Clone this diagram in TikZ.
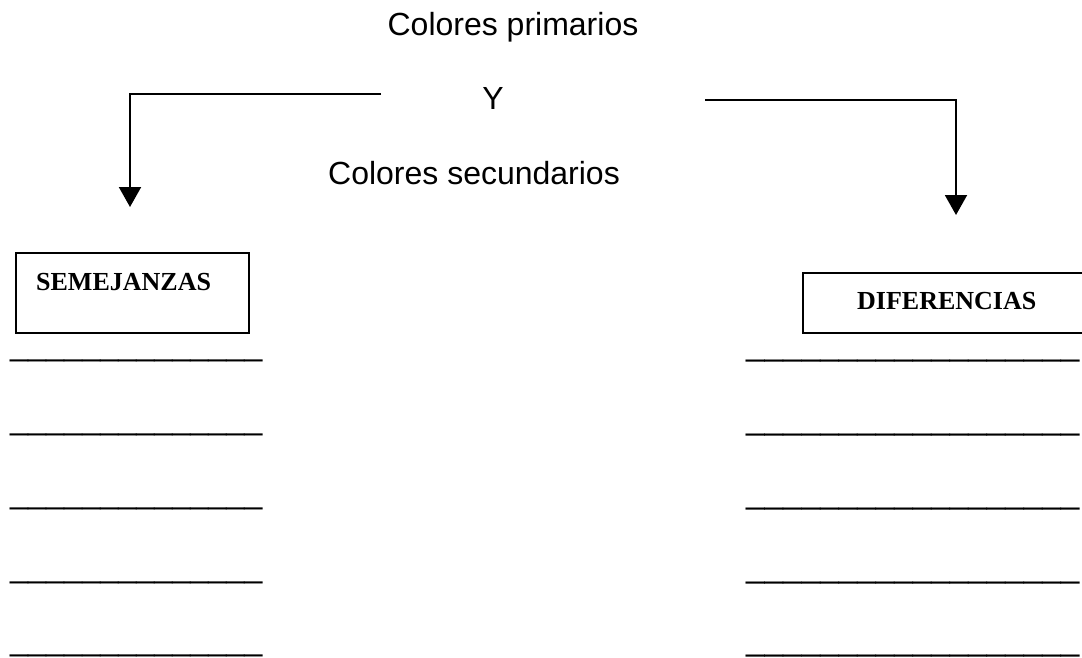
\documentclass[tikz,border=0pt]{standalone}
\usepackage{fontspec}
\setmainfont{Liberation Sans}
\newfontfamily\serifbf{Liberation Serif}
\usetikzlibrary{arrows.meta}
\tikzset{
  title/.style={anchor=base, inner sep=0pt, font=\fontsize{32}{38}\selectfont},
  boxlabel/.style={anchor=base west, inner sep=0pt, font=\serifbf\bfseries\fontsize{26}{30}\selectfont},
  framebox/.style={draw, line width=1.6pt, anchor=north west, inner sep=0pt},
  conn/.style={line width=2pt, -{Triangle[length=20pt,width=22pt]}},
  uline/.style={anchor=base west, inner sep=0pt, font=\fontsize{32.4}{38}\selectfont},
  ulineR/.style={anchor=base west, inner sep=0pt, font=\fontsize{33.3}{38}\selectfont}
}
\begin{document}
\begin{tikzpicture}[x=1pt,y=-1pt]
\useasboundingbox (0,0) rectangle (1082,658);
% titles
\node[title] (prim) at (513,36) {Colores primarios};
\node[title] (y) at (493,110) {Y};
\node[title] (sec) at (474,185) {Colores secundarios};
% connector coordinates
\coordinate (ls) at (381,94);
\coordinate (lc) at (130,94);
\coordinate (le) at (130,207);
\coordinate (rs) at (705,100);
\coordinate (rc) at (956,100);
\coordinate (re) at (956,215);
\draw[conn] (ls) -- (lc) -- (le);
\draw[conn] (rs) -- (rc) -- (re);
% boxes
\node[framebox, minimum width=233pt, minimum height=80pt] (sembox) at (15,252) {};
\node[boxlabel] (semlbl) at (36,290) {SEMEJANZAS};
\node[framebox, minimum width=300pt, minimum height=60pt] (difbox) at (802,272) {};
\node[boxlabel] (diflbl) at (857,309) {DIFERENCIAS};
% blank lines
\foreach \yy [count=\i] in {361,435,509,583,656} {
  \node[uline] (l\i) at (10,\yy-5.5) {\_\_\_\_\_\_\_\_\_\_\_\_\_\_};
  \node[ulineR] (r\i) at (746,\yy-5.7) {\_\_\_\_\_\_\_\_\_\_\_\_\_\_\_\_\_\_};
}
\end{tikzpicture}
\end{document}
